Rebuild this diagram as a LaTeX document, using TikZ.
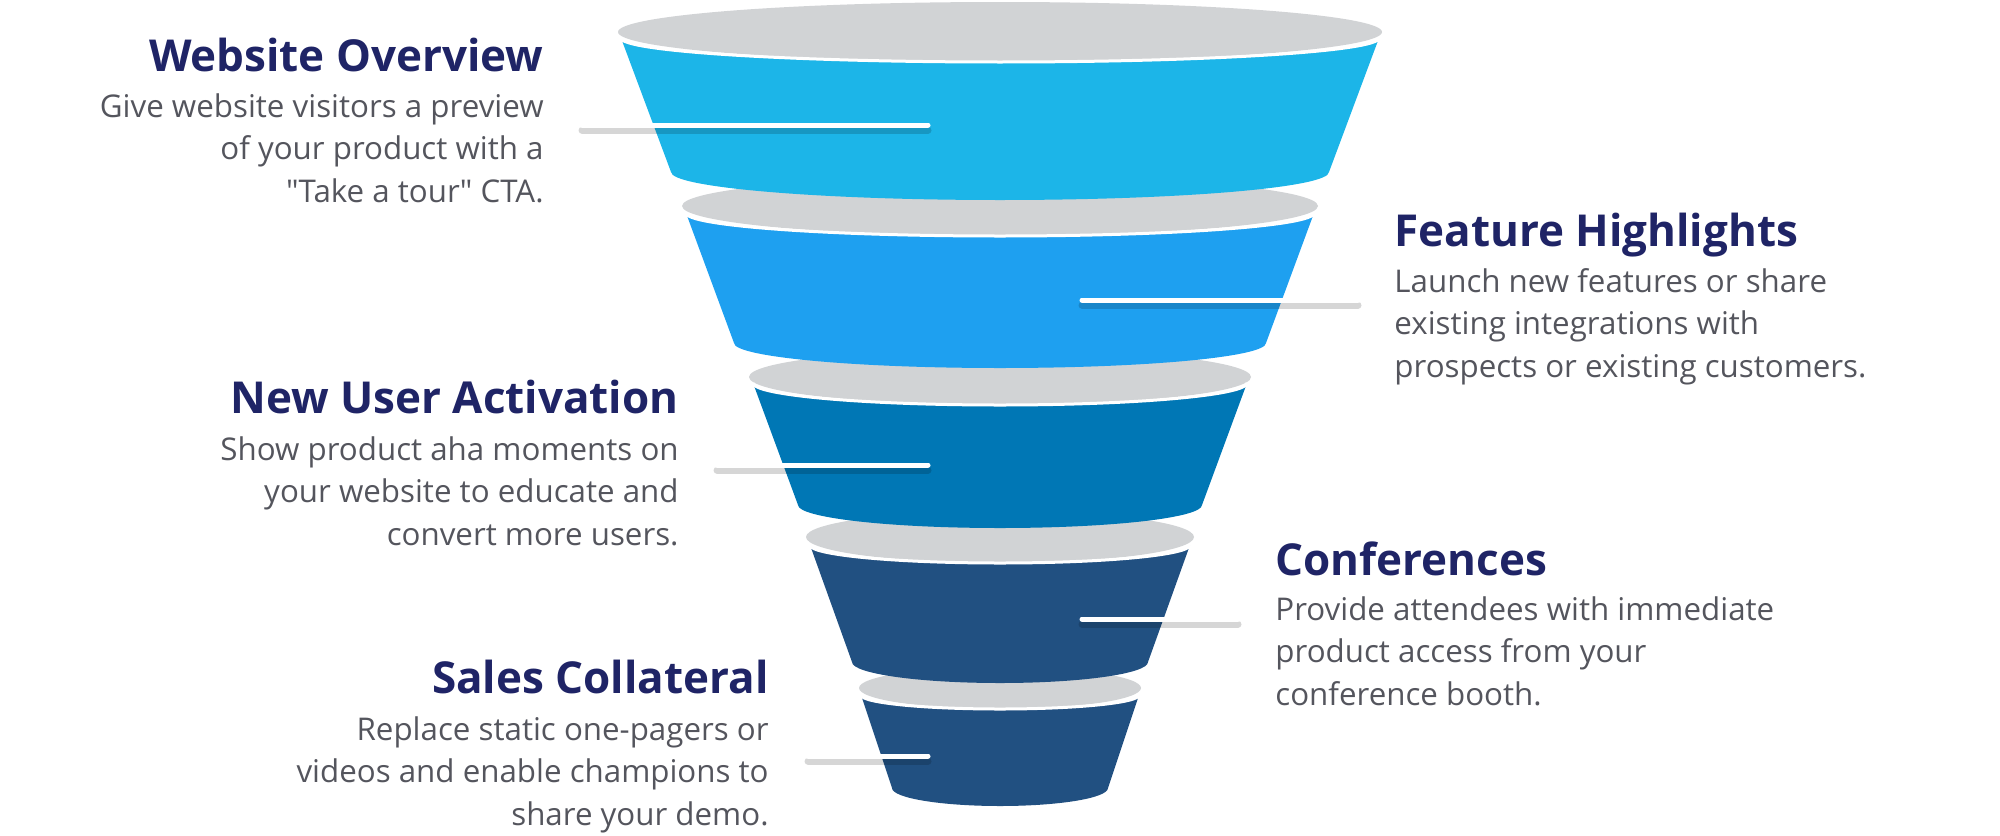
\documentclass[tikz,border=0pt]{standalone}
\usepackage{fontspec}
\setmainfont{Open Sans}
\newfontfamily\rawquote{Open Sans}[Ligatures=TeXOff]
\definecolor{gcap}{HTML}{D1D3D5}
\definecolor{bandA}{HTML}{1CB5E8}
\definecolor{bandB}{HTML}{1EA0F0}
\definecolor{bandC}{HTML}{0077B5}
\definecolor{bandD}{HTML}{215081}
\definecolor{ttl}{HTML}{1F2466}
\definecolor{bdy}{HTML}{54555D}
\newcommand{\bodyfont}{\fontsize{15.65}{21.3}\selectfont}
\newcommand{\titlefont}{\fontsize{22}{26}\selectfont\bfseries}
\newcommand{\sq}{{\rawquote"}}
\begin{document}
\begin{tikzpicture}[x=0.5pt,y=-0.5pt,
  ttlnode/.style={inner sep=0pt,text=ttl,font=\titlefont},
  bdynode/.style={inner sep=0pt,text=bdy,font=\bodyfont},
  linkshade/.style={draw=black,draw opacity=0.16,line width=3.5pt,line cap=round},
  linkline/.style={draw=white,line width=2.5pt,line cap=round},
  rimline/.style={draw=white,line width=1.5pt}]
\useasboundingbox (0,0) rectangle (2000,835);
% funnel, bottom band first
\foreach \col/\gy/\grx/\gry/\ty/\rxt/\ryt/\by/\rxb/\ryb in {
  bandD/688/141/21/695/139/14/788/108/18,
  bandD/537/194/26/545/190/18/662/148/21,
  bandC/377/251/28/383/247/22/505/202/23,
  bandB/206/318/30/213/314/23/343/266/25,
  bandA/32/382/30/38/379/24/172/329/28}{
  \fill[gcap] (1000,\gy) ellipse[x radius=\grx,y radius=\gry];
  \fill[\col] ({1000-\rxt},\ty) arc[start angle=180,end angle=0,x radius=\rxt,y radius=\ryt]
     -- ({1000+\rxb},\by) arc[start angle=0,end angle=180,x radius=\rxb,y radius=\ryb] -- cycle;
  \draw[rimline] ({1000-\rxt},\ty) arc[start angle=180,end angle=0,x radius=\rxt,y radius=\ryt];
}
% texts
\node[ttlnode,anchor=base east] (t1) at (544,71) {Website Overview};
\node[bdynode,anchor=base east] (b1) at (544,117) {\begin{tabular}[t]{@{}r@{}}Give website visitors a preview\\of your product with a\\\sq Take a tour\sq\ CTA.\end{tabular}};
\node[ttlnode,anchor=base west] (t2) at (1394,246) {Feature Highlights};
\node[bdynode,anchor=base west] (b2) at (1394,292) {\begin{tabular}[t]{@{}l@{}}Launch new features or share\\existing integrations with\\prospects or existing customers.\end{tabular}};
\node[ttlnode,anchor=base east] (t3) at (679,413) {New User Activation};
\node[bdynode,anchor=base east] (b3) at (679,460) {\begin{tabular}[t]{@{}r@{}}Show product aha moments on\\your website to educate and\\convert more users.\end{tabular}};
\node[ttlnode,anchor=base west] (t4) at (1275,575) {Conferences};
\node[bdynode,anchor=base west] (b4) at (1275,620) {\begin{tabular}[t]{@{}l@{}}Provide attendees with immediate\\product access from your\\conference booth.\end{tabular}};
\node[ttlnode,anchor=base east] (t5) at (769,693) {Sales Collateral};
\node[bdynode,anchor=base east] (b5) at (769,740) {\begin{tabular}[t]{@{}r@{}}Replace static one-pagers or\\videos and enable champions to\\share your demo.\end{tabular}};
% connectors
\coordinate (c1a) at (582,125);  \coordinate (c1b) at (928,125);
\coordinate (c2a) at (1082,300); \coordinate (c2b) at (1358,300);
\coordinate (c3a) at (717,465);  \coordinate (c3b) at (928,465);
\coordinate (c4a) at (1082,619); \coordinate (c4b) at (1238,619);
\coordinate (c5a) at (808,756);  \coordinate (c5b) at (928,756);
\foreach \a/\b in {c1a/c1b,c2a/c2b,c3a/c3b,c4a/c4b,c5a/c5b}{
  \draw[linkshade] ([yshift=-2.5pt]\a) -- ([yshift=-2.5pt]\b);
  \draw[linkline] (\a) -- (\b);
}
\end{tikzpicture}
\end{document}
